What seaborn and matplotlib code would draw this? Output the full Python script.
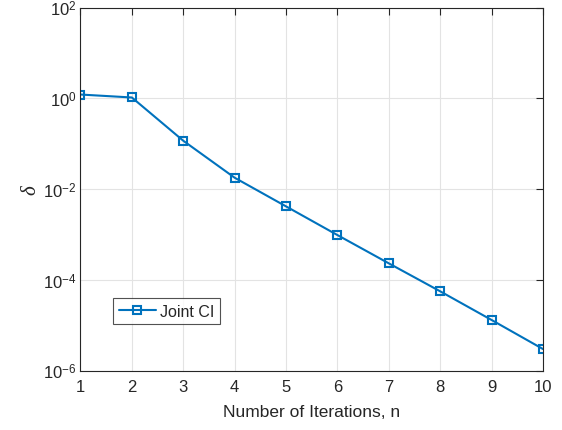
import matplotlib
matplotlib.use("Agg")
import matplotlib.pyplot as plt
import seaborn as sns
import pandas as pd
import numpy as np

iterations = [1, 2, 3, 4, 5, 6, 7, 8, 9, 10]
delta = [1.22, 1.05, 0.117, 0.0179, 0.00418, 9.75e-4, 2.32e-4, 5.61e-5, 1.31e-5, 3.0e-6]
series_label = "Joint CI"
x_ticks = [1, 2, 3, 4, 5, 6, 7, 8, 9, 10]
y_ticks = [1e-6, 1e-4, 1e-2, 1e0, 1e2]
y_tick_labels = [r"$10^{-6}$", r"$10^{-4}$", r"$10^{-2}$", r"$10^{0}$", r"$10^{2}$"]

sns.set_theme(style="white")
plt.rcParams['font.family'] = ['Liberation Sans', 'DejaVu Sans']
plt.rcParams['mathtext.fontset'] = 'custom'
plt.rcParams['mathtext.rm'] = 'Liberation Sans'
plt.rcParams['mathtext.it'] = 'Liberation Serif:italic'

df = pd.DataFrame({"n": iterations, "delta": delta, "s": series_label})

fig = plt.figure(figsize=(5.62, 4.31), dpi=100)
ax = fig.add_axes([0.1432, 0.1376, 0.8230, 0.8422])

color = "#0072BD"
sns.lineplot(data=df, x="n", y="delta", hue="s", palette=[color], marker="s",
             markersize=6, markerfacecolor="none", markeredgecolor=color,
             markeredgewidth=1.5, linewidth=1.5, ax=ax)

ax.set_yscale("log")
ax.set_xlim(1, 10)
ax.set_ylim(1e-6, 1e2)
ax.set_xticks(x_ticks)
ax.set_yticks(y_ticks)
ax.set_yticklabels(y_tick_labels)
ax.minorticks_off()
ax.grid(True, color="#e3e3e3", linewidth=0.8)
ax.set_axisbelow(True)
for s in ax.spines.values():
    s.set_color("#262626")
    s.set_linewidth(0.8)
ax.tick_params(axis="both", which="both", direction="in", top=True, right=True,
               length=5, width=0.8, colors="#262626", labelsize=12, labelcolor="#262626")
ax.tick_params(axis="x", pad=6)
ax.tick_params(axis="y", pad=3)
ax.set_xlabel("Number of Iterations, n", fontsize=12.5, color="#262626", labelpad=7)
ax.set_ylabel(r"$\delta$", fontsize=15, color="#262626", labelpad=2)

leg = ax.legend(loc="lower left", bbox_to_anchor=(0.071, 0.128), fontsize=11.5,
                frameon=True, fancybox=False, edgecolor="#262626",
                handlelength=2.3, borderpad=0.35, handletextpad=0.3, borderaxespad=0)
leg.get_frame().set_linewidth(0.8)
leg.set_title(None)

fig.savefig("out.png", dpi=100)
